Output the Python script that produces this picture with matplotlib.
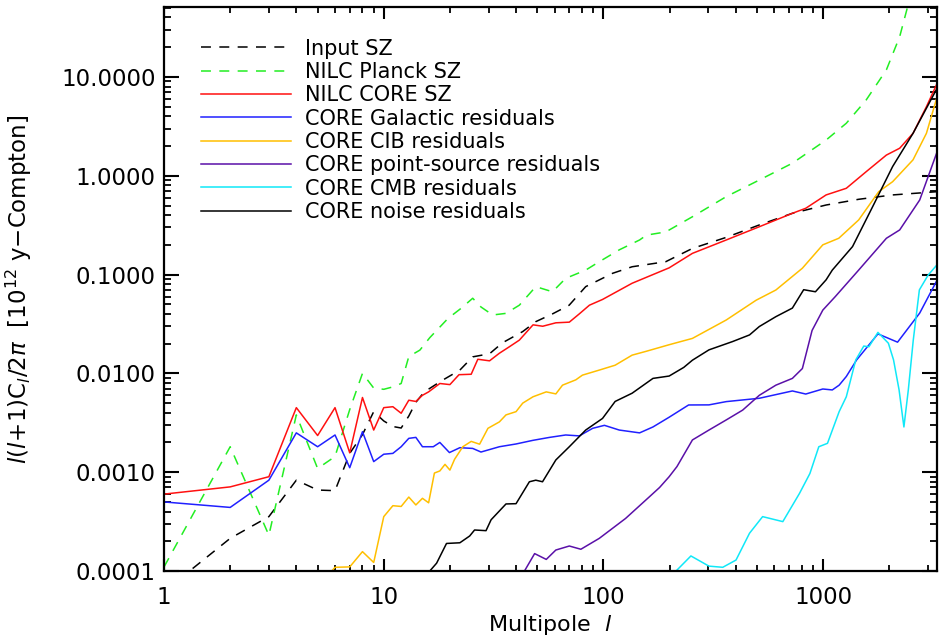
import numpy as np
import matplotlib
matplotlib.use("Agg")
import matplotlib.pyplot as plt
from matplotlib.ticker import FixedLocator, FuncFormatter, LogLocator, NullFormatter

# ----------------------------------------------------------------------------
# Angular power spectra, l(l+1)C_l/2pi in 1e12 y units

input_ell = [1, 2, 3, 4, 5, 6, 7, 8, 9, 10, 11, 12, 13, 14, 15.3, 18.3, 22.2,
             25.4, 30.3, 34.7, 42.9, 49.2, 58.6, 69.8, 83, 110, 135, 192, 254,
             362, 512, 724, 1031, 1450, 2070, 3300]
input_cl = [6.2e-5, 2.14e-4, 3.55e-4, 8.3e-4, 6.6e-4, 6.5e-4, 1.55e-3, 2.4e-3,
            4.1e-3, 3.3e-3, 2.9e-3, 2.8e-3, 3.7e-3, 5.1e-3, 6.5e-3, 8.4e-3,
            0.0108, 0.0147, 0.0158, 0.0204, 0.0265, 0.0334, 0.040, 0.049,
            0.0755, 0.103, 0.120, 0.135, 0.184, 0.238, 0.318, 0.417, 0.506,
            0.578, 0.64, 0.69]

planck_ell = [1, 2, 3, 4, 5, 6, 7, 8, 9, 10, 11, 12, 13, 14.6, 16.2, 18.6,
              19.6, 22.5, 25.4, 27.7, 31.3, 36, 41.4, 49.2, 58.6, 67.3, 83,
              95.7, 118, 146, 157, 192, 254, 362, 512, 724, 1031, 1274, 1569,
              1939, 2229, 2420, 2600]
planck_cl = [1.1e-4, 1.81e-3, 2.3e-4, 3.8e-3, 1.09e-3, 1.44e-3, 4.3e-3, 0.010,
             7.1e-3, 6.9e-3, 7.3e-3, 7.9e-3, 0.0148, 0.0172, 0.0230, 0.0318,
             0.036, 0.0456, 0.0576, 0.047, 0.039, 0.0405, 0.049, 0.0755, 0.067,
             0.0916, 0.111, 0.135, 0.178, 0.224, 0.251, 0.27, 0.385, 0.615,
             0.906, 1.34, 2.30, 3.40, 5.85, 11.8, 25.6, 51.0, 90.0]

core_ell = [1, 2, 3, 4, 5, 6, 7, 8, 9, 10, 11, 12, 13, 14, 15, 16, 18, 20, 22,
            25, 26.8, 30.3, 33.6, 37.3, 41.4, 47.8, 52.9, 60.7, 69.9, 77.6,
            86.3, 99, 135, 199, 254, 362, 512, 724, 833, 1031, 1274, 1569,
            1939, 2229, 2564, 2950, 3300]
core_cl = [6.0e-4, 7.1e-4, 9.0e-4, 4.5e-3, 2.35e-3, 4.5e-3, 1.57e-3, 5.7e-3,
           2.67e-3, 4.5e-3, 4.6e-3, 3.95e-3, 5.35e-3, 5.2e-3, 6.0e-3, 6.5e-3,
           7.9e-3, 7.7e-3, 9.7e-3, 9.8e-3, 0.0139, 0.0134, 0.016, 0.0186,
           0.0217, 0.031, 0.030, 0.0325, 0.033, 0.040, 0.049, 0.056, 0.0817,
           0.117, 0.164, 0.224, 0.305, 0.417, 0.469, 0.64, 0.747, 1.10, 1.62,
           1.90, 2.69, 5.0, 8.6]

gal_ell = [1, 2, 3, 4, 5, 6, 7, 8, 9, 10, 11, 12, 13, 14, 15, 16.8, 18, 19.9,
           22.2, 25.4, 27.7, 33.6, 40, 47.7, 56.8, 67.3, 77.6, 89.3, 101, 118,
           146, 168, 199, 244, 302, 362, 512, 724, 833, 996, 1100, 1182, 1274,
           1420, 1775, 2180, 2750, 3300]
gal_cl = [5.0e-4, 4.4e-4, 8.3e-4, 2.5e-3, 1.81e-3, 2.38e-3, 1.11e-3, 2.57e-3,
          1.28e-3, 1.52e-3, 1.55e-3, 1.81e-3, 2.2e-3, 2.25e-3, 1.81e-3, 1.81e-3,
          2.0e-3, 1.58e-3, 1.77e-3, 1.74e-3, 1.6e-3, 1.81e-3, 1.93e-3, 2.1e-3,
          2.25e-3, 2.38e-3, 2.33e-3, 2.78e-3, 2.98e-3, 2.67e-3, 2.5e-3, 2.87e-3,
          3.6e-3, 4.79e-3, 4.8e-3, 5.18e-3, 5.6e-3, 6.64e-3, 6.18e-3, 6.95e-3,
          6.8e-3, 7.6e-3, 9.3e-3, 0.0137, 0.0251, 0.0207, 0.0408, 0.088]

cib_ell = [5.8, 6, 7, 8, 9, 10, 11, 12, 13, 14, 15, 16, 17, 18, 19, 20, 21,
           22.9, 25, 27.3, 29.8, 33.6, 36, 40, 42.9, 47.8, 54.9, 60.7, 65.1,
           74.8, 80.2, 95.7, 113, 135, 156, 199, 254, 362, 495, 609, 804, 996,
           1177, 1450, 1789, 2070, 2564, 2950, 3300]
cib_cl = [1e-4, 1.09e-4, 1.1e-4, 1.57e-4, 1.22e-4, 3.55e-4, 4.58e-4, 4.5e-4,
          5.6e-4, 4.66e-4, 5.44e-4, 4.9e-4, 9.8e-4, 1.03e-3, 1.2e-3, 1.05e-3,
          1.35e-3, 1.81e-3, 2.05e-3, 1.92e-3, 2.78e-3, 3.23e-3, 3.8e-3, 4.1e-3,
          5.0e-3, 5.8e-3, 6.5e-3, 6.2e-3, 7.6e-3, 8.6e-3, 9.6e-3, 0.0108,
          0.0121, 0.0153, 0.0167, 0.0195, 0.0226, 0.0347, 0.055, 0.0698, 0.116,
          0.2, 0.233, 0.357, 0.69, 0.871, 1.45, 2.69, 6.3]

ps_ell = [43.7, 48.6, 54.9, 60.7, 69.9, 78.9, 95.7, 126, 162, 180, 199, 216,
          254, 302, 362, 430, 512, 609, 724, 804, 890, 996, 1136, 1450, 1939,
          2229, 2750, 3300]
ps_cl = [1e-4, 1.5e-4, 1.31e-4, 1.63e-4, 1.79e-4, 1.66e-4, 2.14e-4, 3.4e-4,
         5.65e-4, 7.0e-4, 9.0e-4, 1.14e-3, 2.12e-3, 2.67e-3, 3.38e-3, 4.25e-3,
         6.0e-3, 7.6e-3, 8.9e-3, 0.0112, 0.0272, 0.0437, 0.06, 0.111, 0.233,
         0.283, 0.569, 1.75]

cmb_ell = [214, 250, 302, 349, 401, 462, 530, 655, 780, 870, 955, 1046, 1182,
           1274, 1407, 1530, 1615, 1775, 1980, 2090, 2215, 2330, 2440, 2570,
           2740, 3000, 3300]
cmb_cl = [1e-4, 1.42e-4, 1.12e-4, 1.09e-4, 1.29e-4, 2.41e-4, 3.55e-4, 3.16e-4,
          6.1e-4, 9.7e-4, 1.81e-3, 1.96e-3, 4.1e-3, 5.8e-3, 0.0137, 0.0189,
          0.0186, 0.026, 0.0202, 0.0137, 6.8e-3, 2.87e-3, 6.8e-3, 0.0217, 0.070,
          0.0985, 0.126]

noise_ell = [16.2, 17.4, 19.3, 22.2, 24.6, 25.9, 29.2, 30.8, 36, 40, 46, 49.2,
             52.8, 60.7, 69.9, 83, 99, 113, 135, 168, 199, 232, 254, 302, 387,
             462, 512, 609, 724, 815, 922, 1031, 1100, 1360, 1680, 2070, 2564,
             3300]
noise_cl = [1e-4, 1.2e-4, 1.9e-4, 1.93e-4, 2.26e-4, 2.6e-4, 2.56e-4, 3.3e-4,
            4.77e-4, 4.8e-4, 8.0e-4, 8.3e-4, 8.0e-4, 1.33e-3, 1.81e-3, 2.67e-3,
            3.5e-3, 5.2e-3, 6.3e-3, 8.9e-3, 9.4e-3, 0.0115, 0.0136, 0.0173,
            0.021, 0.0245, 0.0298, 0.0375, 0.0458, 0.0703, 0.067, 0.0885, 0.111,
            0.192, 0.488, 1.24, 2.69, 7.7]

labels = ["Input SZ", "NILC Planck SZ", "NILC CORE SZ",
          "CORE Galactic residuals", "CORE CIB residuals",
          "CORE point-source residuals", "CORE CMB residuals",
          "CORE noise residuals"]

yticks = [1e-4, 1e-3, 1e-2, 1e-1, 1e0, 1e1]
xticks = [1, 10, 100, 1000]

# ----------------------------------------------------------------------------
# Plot

plt.rcParams['font.family'] = 'DejaVu Sans'
plt.rcParams['mathtext.fontset'] = 'dejavusans'

fig = plt.figure(figsize=(9.39, 6.42), dpi=100)
ax = fig.add_axes([0.1747, 0.1106, 0.8233, 0.8784])

dash = (0, (6.5, 5.5))
lw = 1.1
ax.plot(input_ell, input_cl, color='black', lw=lw, ls=dash, label=labels[0])
ax.plot(planck_ell, planck_cl, color='#22ee22', lw=lw, ls=dash, label=labels[1])
ax.plot(core_ell, core_cl, color='#ff1010', lw=lw, label=labels[2])
ax.plot(gal_ell, gal_cl, color='#2020ff', lw=lw, label=labels[3])
ax.plot(cib_ell, cib_cl, color='#ffbf00', lw=lw, label=labels[4])
ax.plot(ps_ell, ps_cl, color='#5a10a8', lw=lw, label=labels[5])
ax.plot(cmb_ell, cmb_cl, color='#10e8f8', lw=lw, label=labels[6])
ax.plot(noise_ell, noise_cl, color='black', lw=lw, label=labels[7])

ax.set_xscale('log')
ax.set_yscale('log')
ax.set_xlim(1, 3300)
ax.set_ylim(1e-4, 51)

ax.xaxis.set_major_locator(FixedLocator(xticks))
ax.xaxis.set_major_formatter(FuncFormatter(lambda v, p: '%d' % v))
ax.xaxis.set_minor_locator(LogLocator(base=10, subs=np.arange(2, 10)))
ax.xaxis.set_minor_formatter(NullFormatter())
ax.yaxis.set_major_locator(FixedLocator(yticks))
ax.yaxis.set_major_formatter(FuncFormatter(lambda v, p: '%.4f' % v))
ax.yaxis.set_minor_locator(LogLocator(base=10, subs=np.arange(2, 10)))
ax.yaxis.set_minor_formatter(NullFormatter())

ax.tick_params(which='both', direction='in', top=True, right=True,
               labelsize=16.5, colors='black')
ax.tick_params(axis='x', which='major', length=8.5, width=1.5, pad=11)
ax.tick_params(axis='x', which='minor', length=4, width=1.3)
ax.tick_params(axis='y', which='major', length=10.5, width=1.5, pad=6)
ax.tick_params(axis='y', which='minor', length=5, width=1.3)
for s in ax.spines.values():
    s.set_linewidth(1.6)

ax.set_xlabel(r'Multipole  $l$', fontsize=16, labelpad=3)
ax.set_ylabel(r'$l(l\!+\!1)\mathrm{C}_l/2\pi$  [10$^{12}$ y$-$Compton]',
              fontsize=16.5)
ax.yaxis.set_label_coords(-0.168, 0.5)

ax.legend(loc='upper left', bbox_to_anchor=(0.048, 0.944), frameon=False,
          fontsize=15, handlelength=4.3, handletextpad=0.7,
          labelspacing=0.16, borderpad=0, borderaxespad=0)

fig.savefig('out.png', dpi=100)
